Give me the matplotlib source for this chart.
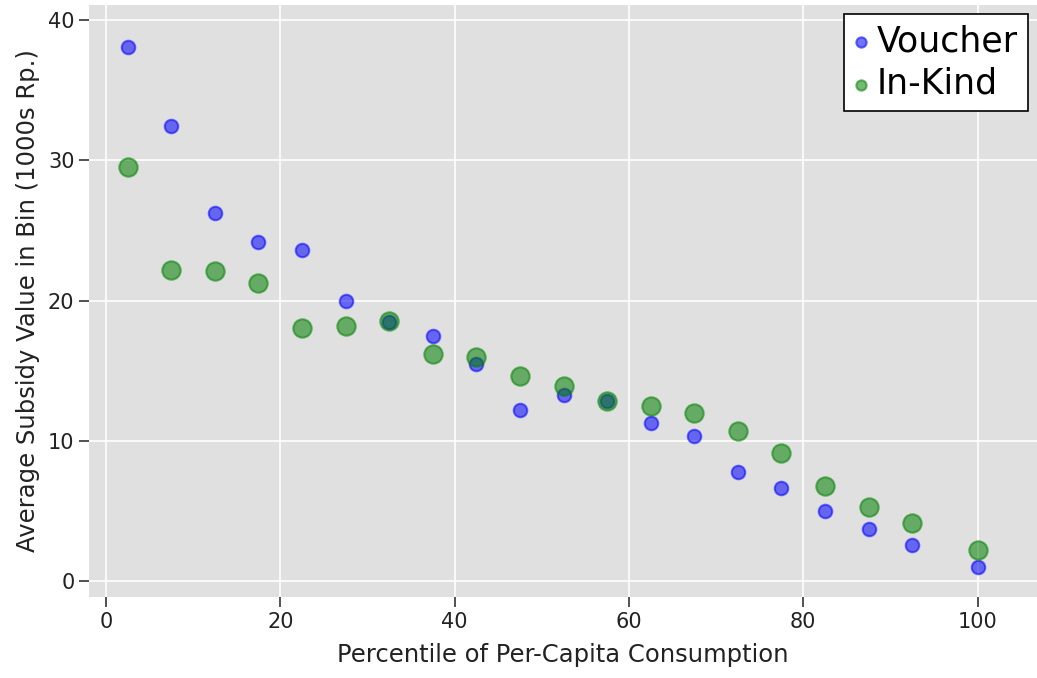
import matplotlib
matplotlib.use('Agg')
import matplotlib.pyplot as plt

pct = [2.5, 7.5, 12.5, 17.5, 22.5, 27.5, 32.5, 37.5, 42.5, 47.5,
       52.5, 57.5, 62.5, 67.5, 72.5, 77.5, 82.5, 87.5, 92.5, 100]
voucher = [38.07, 32.44, 26.24, 24.17, 23.6, 19.96, 18.47, 17.47, 15.47, 12.19,
           13.26, 12.83, 11.27, 10.34, 7.77, 6.63, 4.99, 3.71, 2.57, 1.0]
inkind = [29.52, 22.17, 22.1, 21.25, 18.04, 18.18, 18.54, 16.19, 15.97, 14.62,
          13.9, 12.83, 12.48, 11.98, 10.7, 9.13, 6.77, 5.28, 4.14, 2.21]

fig = plt.figure(figsize=(10.37, 6.78), dpi=100)
ax = fig.add_axes([0.0858, 0.1195, 0.914, 0.873])
ax.set_facecolor('#e0e0e0')
ax.grid(True, color='white', linewidth=1.2)
ax.set_axisbelow(True)
for s in ax.spines.values():
    s.set_visible(False)

ax.scatter(pct, voucher, s=95, color='blue', alpha=0.55, linewidths=1.5, label='Voucher')
ax.scatter(pct, inkind, s=175, color='green', alpha=0.55, linewidths=1.5, label='In-Kind')

ax.set_xlim(-1.95, 106.8)
ax.set_ylim(-1.14, 41.07)
ax.set_xticks([0, 20, 40, 60, 80, 100])
ax.set_yticks([0, 10, 20, 30, 40])
ax.tick_params(labelsize=15, length=7, width=1.2, color='#333333', labelcolor='#222222')
ax.set_xlabel('Percentile of Per-Capita Consumption', fontsize=17.5, color='#222222', labelpad=8)
ax.set_ylabel('Average Subsidy Value in Bin (1000s Rp.)', fontsize=17.5, color='#222222', labelpad=6)

leg = ax.legend(loc='upper right', fontsize=25, fancybox=False,
                framealpha=1, edgecolor='black', handletextpad=0.25, borderpad=0.3,
                handlelength=0.4, labelspacing=0.25, borderaxespad=0.25)
leg.get_frame().set_linewidth(1.2)
for h in leg.legend_handles:
    h.set_sizes([55])

fig.savefig('out.png', dpi=100)
